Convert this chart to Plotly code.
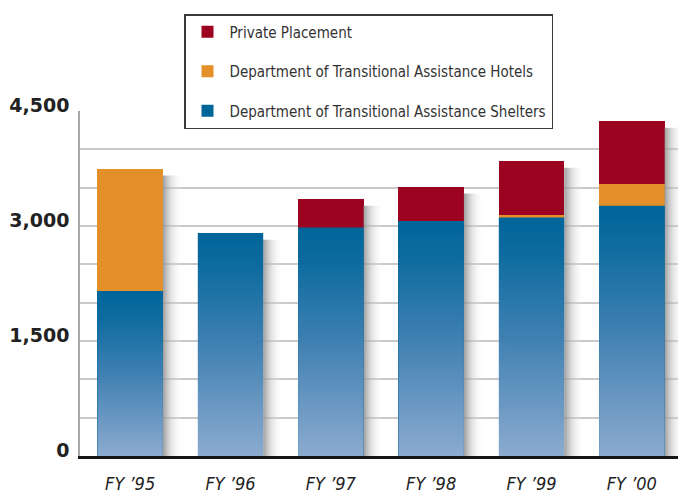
import plotly.graph_objects as go

years = ["FY ’95", "FY ’96", "FY ’97", "FY ’98", "FY ’99", "FY ’00"]
shelters = [2150, 2910, 2980, 3060, 3110, 3265]
hotels = [1600, 0, 0, 0, 30, 285]
private = [0, 0, 375, 455, 710, 820]

names = ["Department of Transitional Assistance Shelters",
         "Department of Transitional Assistance Hotels",
         "Private Placement"]
colors = ["#00669a", "#e3902a", "#9c0321"]

idx = list(range(len(years)))
BW = 0.652
COND = "DejaVu Sans Condensed, Liberation Sans, sans-serif"

fig = go.Figure()

# shadows (behind-right of each bar)
for i in idx:
    total = shelters[i] + hotels[i] + private[i]
    x0 = i + BW / 2
    x1 = x0 + 0.2
    top = total - 90
    fig.add_trace(go.Scatter(
        x=[x0, x1, x1, x0, x0], y=[0, 0, top, top, 0],
        mode="lines", fill="toself", line=dict(width=0, color="rgba(0,0,0,0)"),
        fillgradient=dict(type="horizontal",
                          colorscale=[[0, "rgba(140,140,140,0.85)"],
                                      [0.45, "rgba(200,200,200,0.45)"],
                                      [1, "rgba(255,255,255,0)"]]),
        showlegend=False, hoverinfo="skip"))

for rank, (vals, name, col, grp) in enumerate(zip([shelters, hotels, private], names, colors, ["a", "b", "c"])):
    fig.add_trace(go.Bar(x=idx, y=vals, name=name, marker=dict(color=col, line=dict(width=0)),
                         width=BW, legendgroup=grp, legendrank=3 - rank))

# vertical gradient over the shelter segments
for i in idx:
    x0 = i - BW / 2
    x1 = i + BW / 2
    fig.add_trace(go.Scatter(
        x=[x0, x1, x1, x0, x0], y=[0, 0, shelters[i], shelters[i], 0],
        mode="lines", fill="toself", line=dict(width=0, color="rgba(0,0,0,0)"),
        fillgradient=dict(type="vertical",
                          colorscale=[[0, "#8cabcf"], [0.5, "#3f80b2"], [0.85, "#0d6b9f"], [1, "#00659a"]]),
        showlegend=False, hoverinfo="skip"))

fig.update_layout(
    width=678, height=494,
    margin=dict(l=80, r=0, t=111, b=38, autoexpand=False),
    barmode="stack",
    paper_bgcolor="white", plot_bgcolor="white",
    legend=dict(x=(184 - 80) / 598, y=1 + (111 - 14) / 345, xanchor="left", yanchor="top",
                bordercolor="#3a3a3a", borderwidth=1.5, bgcolor="white",
                font=dict(family=COND, size=15, color="#333333"),
                traceorder="grouped", tracegroupgap=17, itemwidth=34),
    xaxis=dict(range=[-0.5, 5.46], tickmode="array", tickvals=idx, ticktext=years,
               showgrid=False, zeroline=False, showline=True, linecolor="#151515", linewidth=2.5,
               ticks="", ticklabelstandoff=10, automargin=False,
               tickfont=dict(family=COND, size=18, style="italic", color="#222222")),
    yaxis=dict(range=[0, 4500], dtick=1500, tick0=0, tickformat=",d",
               showgrid=True, gridcolor="#c9c9c9", gridwidth=1.5,
               minor=dict(dtick=500, showgrid=True, gridcolor="#c9c9c9", gridwidth=1.5),
               zeroline=False, showline=True, linecolor="#a8a8a8", linewidth=1.5,
               ticks="", ticklabelstandoff=5, ticklabelshift=-6, automargin=False,
               tickfont=dict(family="DejaVu Sans", size=19, weight="bold", color="#222222")),
)

fig.write_html("out.html", config={"displayModeBar": False},
               post_script="document.body.style.margin='0';")
